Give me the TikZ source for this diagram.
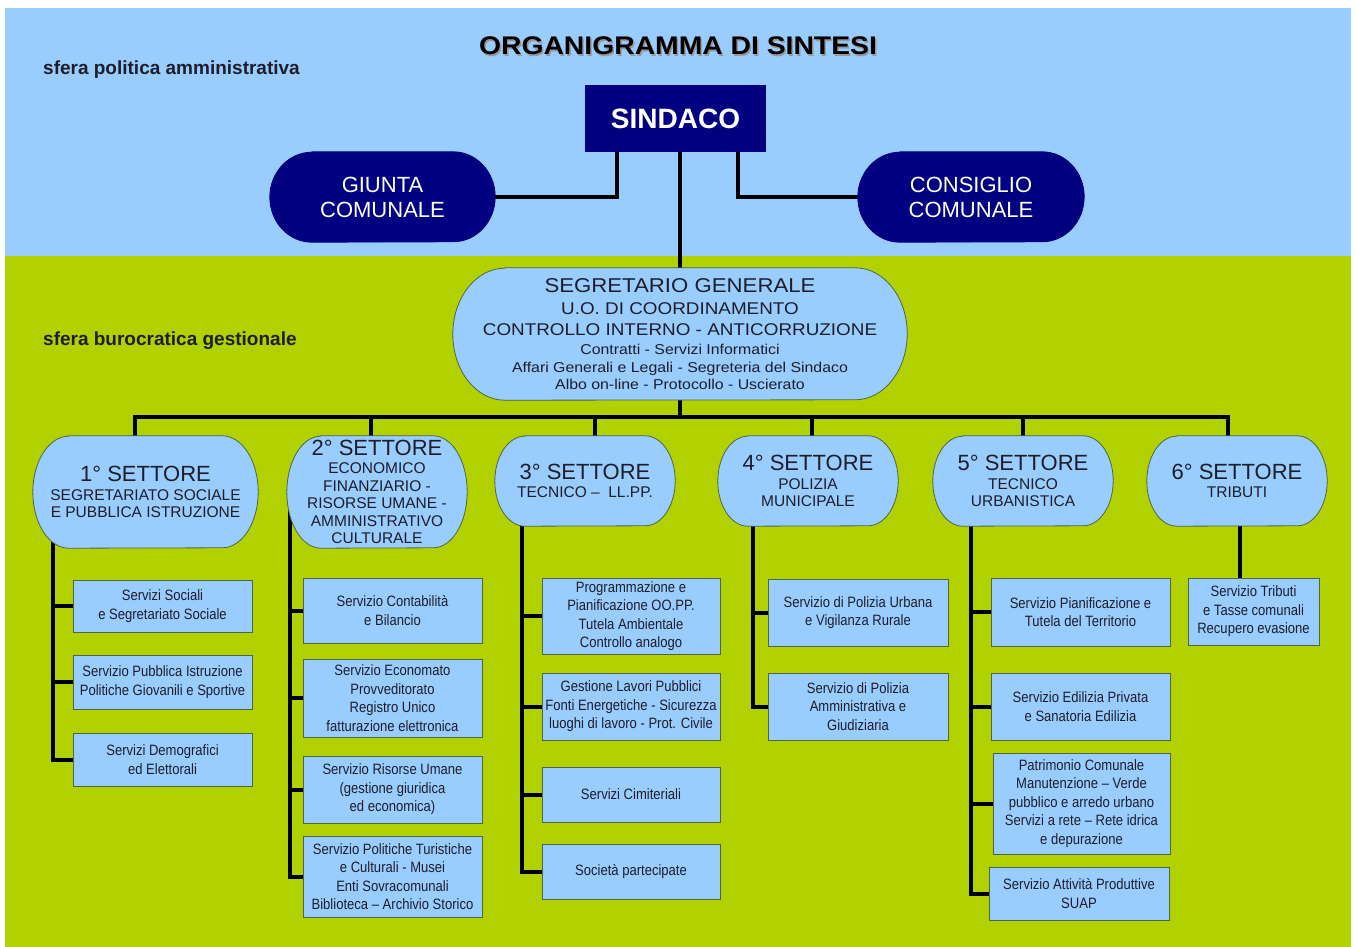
\documentclass[tikz,border=0pt]{standalone}
\usepackage{fontspec}
\setmainfont{Liberation Sans}
\newfontfamily\widefont[FakeStretch=1.11]{Liberation Sans}
\newfontfamily\narrowfont[FakeStretch=0.87]{Liberation Sans}
\pgfdeclarelayer{bg}
\pgfdeclarelayer{lines}
\pgfdeclarelayer{shapes}
\pgfsetlayers{bg,lines,shapes,main}
\definecolor{skyb}{RGB}{153,204,255}
\definecolor{limeg}{RGB}{178,209,0}
\definecolor{navyb}{RGB}{0,0,128}
\definecolor{boxline}{RGB}{80,100,70}
\definecolor{txt}{RGB}{30,30,40}
% #1 node name, #2 x radius, #3 y radius, #4 style
\newcommand\drawstadium[4]{%
  \path[#4] ([xshift=#2pt]#1.north west) -- ([xshift=-#2pt]#1.north east)
    arc[start angle=-90, end angle=90, x radius=#2, y radius=#3]
    -- ([xshift=#2pt]#1.south west)
    arc[start angle=90, end angle=270, x radius=#2, y radius=#3] -- cycle;}
\begin{document}
\begin{tikzpicture}[x=1pt,y=-1pt,
  conn/.style={line width=4pt, black},
  subbox/.style={rectangle, draw=boxline, line width=0.8pt, fill=skyb, align=center, inner sep=0pt,
     font=\narrowfont\fontsize{15}{18.5}\selectfont, text=txt},
  holder/.style={rectangle, draw=none, inner sep=0pt, align=center},
  setttext/.style={holder, font=\fontsize{15.5}{17.5}\selectfont, text=txt},
  navytext/.style={holder, minimum width=225pt, minimum height=90pt, font=\fontsize{22}{25}\selectfont, text=white},
  lightstad/.style={fill=skyb, draw=boxline, line width=0.8pt},
  navystad/.style={fill=navyb, draw=navyb, line width=0.8pt},
  sfera/.style={anchor=base west, font=\bfseries\fontsize{19}{21}\selectfont, text=txt, inner sep=0pt}
]
\useasboundingbox (0,0) rectangle (1357,947);
\begin{pgfonlayer}{bg}
  \fill[white] (0,0) rectangle (1357,947);
  \fill[skyb] (5,8) rectangle (1351,256);
  \fill[limeg] (5,256) rectangle (1351,947);
\end{pgfonlayer}

% title and sphere labels
\node[font=\widefont\bfseries\fontsize{25.5}{28}\selectfont, text=black!40, inner sep=0pt] (titleshadow) at (679.5,47.5) {ORGANIGRAMMA DI SINTESI};
\node[font=\widefont\bfseries\fontsize{25.5}{28}\selectfont, text=black, inner sep=0pt] (title) at (678,46) {ORGANIGRAMMA DI SINTESI};
\node[sfera] (sferapol) at (43,75) {sfera politica amministrativa};
\node[sfera] (sferabur) at (43,345) {sfera burocratica gestionale};

% political sphere
\node[rectangle, fill=navyb, minimum width=181pt, minimum height=67pt, inner sep=0pt,
      font=\bfseries\fontsize{28}{30}\selectfont, text=white] (sindaco) at (675.5,118.5) {SINDACO};
\node[navytext] (giunta) at (382.5,197) {GIUNTA\\COMUNALE};
\node[navytext, minimum width=226pt] (consiglio) at (971,197) {CONSIGLIO\\COMUNALE};

% segretario
\node[holder, minimum width=454pt, minimum height=132pt, text=txt,
      font=\widefont\fontsize{14.3}{17.5}\selectfont] (segr) at (680,334) {%
        {\fontsize{20}{20}\selectfont SEGRETARIO GENERALE}\\[4.5pt]%
        {\fontsize{17}{17}\selectfont U.O. DI COORDINAMENTO}\\[3.5pt]%
        {\fontsize{17}{17}\selectfont CONTROLLO INTERNO - ANTICORRUZIONE}\\[1.5pt]%
        Contratti - Servizi Informatici\\[0.5pt]%
        Affari Generali e Legali - Segreteria del Sindaco\\%
        Albo on-line - Protocollo - Uscierato};

% settori
\node[setttext, minimum width=225pt, minimum height=112pt] (s1) at (145.5,492)
  {{\fontsize{22}{22}\selectfont 1° SETTORE}\\[1pt]SEGRETARIATO SOCIALE\\E PUBBLICA ISTRUZIONE};
\node[setttext, minimum width=180pt, minimum height=112pt] (s2) at (377,492)
  {{\fontsize{22}{22}\selectfont 2° SETTORE}\\[1pt]ECONOMICO\\FINANZIARIO -\\RISORSE UMANE -\\AMMINISTRATIVO\\CULTURALE};
\node[setttext, minimum width=180pt, minimum height=90pt] (s3) at (585,481)
  {{\fontsize{22}{22}\selectfont 3° SETTORE}\\[1pt]TECNICO –\ \ LL.PP.};
\node[setttext, minimum width=180pt, minimum height=90pt] (s4) at (808,481)
  {{\fontsize{22}{22}\selectfont 4° SETTORE}\\[1pt]POLIZIA\\MUNICIPALE};
\node[setttext, minimum width=180pt, minimum height=90pt] (s5) at (1023,481)
  {{\fontsize{22}{22}\selectfont 5° SETTORE}\\[1pt]TECNICO\\URBANISTICA};
\node[setttext, minimum width=180pt, minimum height=90pt] (s6) at (1237,481)
  {{\fontsize{22}{22}\selectfont 6° SETTORE}\\[1pt]TRIBUTI};

% services column 1
\node[subbox, minimum width=179pt, minimum height=52pt] (b11) at (162.5,606) {Servizi Sociali\\e Segretariato Sociale};
\node[subbox, minimum width=179pt, minimum height=54pt] (b12) at (162.5,682) {Servizio Pubblica Istruzione\\Politiche Giovanili e Sportive};
\node[subbox, minimum width=179pt, minimum height=53pt] (b13) at (162.5,759.5) {Servizi Demografici\\ed Elettorali};

% column 2
\node[subbox, minimum width=179pt, minimum height=65pt] (b21) at (392.5,610.5) {Servizio Contabilità\\e Bilancio};
\node[subbox, minimum width=179pt, minimum height=78pt] (b22) at (392.5,698) {Servizio Economato\\Provveditorato\\Registro Unico\\fatturazione elettronica};
\node[subbox, minimum width=179pt, minimum height=67pt] (b23) at (392.5,789.5) {Servizio Risorse Umane\\(gestione giuridica\\ed economica)};
\node[subbox, minimum width=179pt, minimum height=81pt] (b24) at (392.5,876.5) {Servizio Politiche Turistiche\\e Culturali - Musei\\Enti Sovracomunali\\Biblioteca – Archivio Storico};

% column 3
\node[subbox, minimum width=178pt, minimum height=76pt] (b31) at (631,616) {Programmazione e\\Pianificazione OO.PP.\\Tutela Ambientale\\Controllo analogo};
\node[subbox, minimum width=178pt, minimum height=67pt] (b32) at (631,706.5) {Gestione Lavori Pubblici\\Fonti Energetiche - Sicurezza\\luoghi di lavoro - Prot. Civile};
\node[subbox, minimum width=178pt, minimum height=55pt] (b33) at (631,794.5) {Servizi Cimiteriali};
\node[subbox, minimum width=178pt, minimum height=55pt] (b34) at (631,871.5) {Società partecipate};

% column 4
\node[subbox, minimum width=180pt, minimum height=67pt] (b41) at (858,612.5) {Servizio di Polizia Urbana\\e Vigilanza Rurale};
\node[subbox, minimum width=180pt, minimum height=67pt] (b42) at (858,706.5) {Servizio di Polizia\\Amministrativa e\\Giudiziaria};

% column 5
\node[subbox, minimum width=179pt, minimum height=68pt] (b51) at (1080.5,612) {Servizio Pianificazione e\\Tutela del Territorio};
\node[subbox, minimum width=179pt, minimum height=67pt] (b52) at (1080.5,706.5) {Servizio Edilizia Privata\\e Sanatoria Edilizia};
\node[subbox, minimum width=177pt, minimum height=101pt] (b53) at (1081.5,803.5) {Patrimonio Comunale\\Manutenzione – Verde\\pubblico e arredo urbano\\Servizi a rete – Rete idrica\\e depurazione};
\node[subbox, minimum width=180pt, minimum height=53pt] (b54) at (1079,893.5) {Servizio Attività Produttive\\SUAP};

% column 6
\node[subbox, minimum width=131pt, minimum height=67pt] (b61) at (1253.5,611.5) {Servizio Tributi\\e Tasse comunali\\Recupero evasione};

% stadium outlines
\begin{pgfonlayer}{shapes}
  \drawstadium{giunta}{42}{45}{navystad}
  \drawstadium{consiglio}{42}{45}{navystad}
  \drawstadium{segr}{52}{66}{lightstad}
  \drawstadium{s1}{36}{56}{lightstad}
  \drawstadium{s2}{34}{56}{lightstad}
  \drawstadium{s3}{30}{45}{lightstad}
  \drawstadium{s4}{30}{45}{lightstad}
  \drawstadium{s5}{30}{45}{lightstad}
  \drawstadium{s6}{30}{45}{lightstad}
\end{pgfonlayer}

% connectors
\coordinate (bus) at (680,417);
\coordinate (t1) at (53,500);
\coordinate (t2) at (290,492);
\coordinate (t3) at (522,481);
\coordinate (t4) at (753,481);
\coordinate (t5) at (971,481);
\begin{pgfonlayer}{lines}
  \draw[conn] ([xshift=-58.5pt]sindaco.south) |- (giunta.east);
  \draw[conn] ([xshift=62.5pt]sindaco.south) |- (consiglio.west);
  \draw[conn] (sindaco.south -| segr.north) -- (segr.north);
  \draw[conn] (segr.south) -- (bus);
  \draw[conn] ([xshift=-10.5pt]s1.north) |- (bus) -| ([xshift=-9pt]s6.north);
  \draw[conn] ([xshift=-6pt]s2.north) -- ([xshift=-6pt]s2.north |- bus);
  \draw[conn] ([xshift=10pt]s3.north) -- ([xshift=10pt]s3.north |- bus);
  \draw[conn] ([xshift=4pt]s4.north) -- ([xshift=4pt]s4.north |- bus);
  \draw[conn] (s5.north) -- (s5.north |- bus);
  % trunks
  \draw[conn] (t1) |- (b13.west);
  \foreach \b in {b11,b12} \draw[conn] (\b.west) -- (\b.west -| t1);
  \draw[conn] (t2) |- (b24.west);
  \foreach \b in {b21,b22,b23} \draw[conn] (\b.west) -- (\b.west -| t2);
  \draw[conn] (t3) |- (b34.west);
  \foreach \b in {b31,b32,b33} \draw[conn] (\b.west) -- (\b.west -| t3);
  \draw[conn] (t4) |- (b42.west);
  \draw[conn] (b41.west) -- (b41.west -| t4);
  \draw[conn] (t5) |- (b54.west);
  \foreach \b in {b51,b52,b53} \draw[conn] (\b.west) -- (\b.west -| t5);
  \draw[conn] ([xshift=3pt]s6.south) -- ([xshift=3pt]s6.south |- b61.north);
\end{pgfonlayer}
\end{tikzpicture}
\end{document}
